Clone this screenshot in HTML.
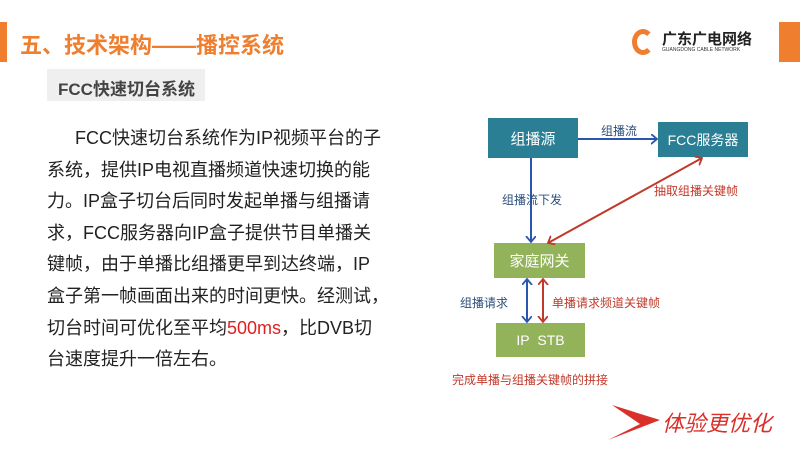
<!DOCTYPE html>
<html><head><meta charset="utf-8"><style>
body{margin:0;width:800px;height:450px;background:#fff;position:relative;overflow:hidden;font-family:"Liberation Sans","Noto Sans CJK SC",sans-serif}
.a{position:absolute;white-space:nowrap}
.txt{position:absolute;left:47px;top:123px;font-size:18px;line-height:31.6px;color:#222;white-space:nowrap}
.box{position:absolute;color:#fff;font-size:14px;display:flex;align-items:center;justify-content:center}
</style></head><body>
<div class="a" style="left:0;top:22px;width:7px;height:40px;background:#ef7e2e"></div>
<div class="a" style="left:779px;top:22px;width:21px;height:40px;background:#ef7e2e"></div>
<div class="a" style="left:20px;top:28px;font-size:22px;font-weight:bold;color:#ef7e2e">五、技术架构——播控系统</div>
<div class="a" style="left:632px;top:29px;width:22px;height:26px;border-radius:50%;border:5px solid #ef7e2e;border-right-color:transparent;box-sizing:border-box"></div>
<div class="a" style="left:662px;top:28px;font-size:15px;font-weight:bold;color:#222">广东广电网络</div>
<div class="a" style="left:662px;top:47px;font-size:5px;color:#333">GUANGDONG CABLE NETWORK</div>
<div class="a" style="left:47px;top:69px;width:158px;height:32px;background:#efefef"></div>
<div class="a" style="left:58px;top:75px;font-size:17px;font-weight:bold;color:#444">FCC快速切台系统</div>
<div class="txt"><span style="display:inline-block;width:28px"></span>FCC快速切台系统作为IP视频平台的子<br>系统，提供IP电视直播频道快速切换的能<br>力。IP盒子切台后同时发起单播与组播请<br>求，FCC服务器向IP盒子提供节目单播关<br>键帧，由于单播比组播更早到达终端，IP<br>盒子第一帧画面出来的时间更快。经测试，<br>切台时间可优化至平均<span style="color:#e02020">500ms</span>，比DVB切<br>台速度提升一倍左右。</div>
<div class="box" style="left:488px;top:118px;width:90px;height:40px;background:#2a7f94;font-size:15px">组播源</div>
<div class="box" style="left:658px;top:122px;width:90px;height:35px;background:#2a7f94">FCC服务器</div>
<div class="box" style="left:494px;top:243px;width:91px;height:35px;background:#93b35a;font-size:15px">家庭网关</div>
<div class="box" style="left:496px;top:323px;width:89px;height:34px;background:#93b35a">IP&nbsp;&nbsp;STB</div>
<svg class="a" style="left:0;top:0" width="800" height="450">
<defs>
<marker id="b" markerUnits="userSpaceOnUse" markerWidth="10" markerHeight="12" refX="6" refY="5" orient="auto-start-reverse"><path d="M0,0L6,5L0,10" fill="none" stroke="#2b56b0" stroke-width="1.8"/></marker>
<marker id="r" markerUnits="userSpaceOnUse" markerWidth="10" markerHeight="12" refX="6" refY="5" orient="auto-start-reverse"><path d="M0,0L6,5L0,10" fill="none" stroke="#c0392b" stroke-width="1.8"/></marker>
</defs>
<g stroke-width="2" fill="none">
<line x1="578" y1="139" x2="657" y2="139" stroke="#2b56b0" marker-end="url(#b)"/>
<line x1="531" y1="158" x2="531" y2="242" stroke="#2b56b0" marker-end="url(#b)"/>
<line x1="702" y1="158" x2="548" y2="243" stroke="#c0392b" marker-start="url(#r)" marker-end="url(#r)"/>
<line x1="527" y1="279" x2="527" y2="322" stroke="#2b56b0" marker-start="url(#b)" marker-end="url(#b)"/>
<line x1="543" y1="279" x2="543" y2="322" stroke="#c0392b" marker-start="url(#r)" marker-end="url(#r)"/>
<path d="M612 405L660 420L608 440L640 424Z" fill="#d9302a" stroke="none"/>
</g>
</svg>
<div class="a" style="left:601px;top:122px;font-size:12px;color:#2b4f7a">组播流</div>
<div class="a" style="left:502px;top:191px;font-size:12px;color:#2b4f7a">组播流下发</div>
<div class="a" style="left:654px;top:182px;font-size:12px;color:#c0392b">抽取组播关键帧</div>
<div class="a" style="left:460px;top:294px;font-size:12px;color:#2b4f7a">组播请求</div>
<div class="a" style="left:552px;top:294px;font-size:12px;color:#c0392b">单播请求频道关键帧</div>
<div class="a" style="left:452px;top:371px;font-size:12px;color:#c0392b">完成单播与组播关键帧的拼接</div>
<div class="a" style="left:662px;top:406px;font-size:22px;font-style:italic;color:#d9302a">体验更优化</div>
</body></html>
